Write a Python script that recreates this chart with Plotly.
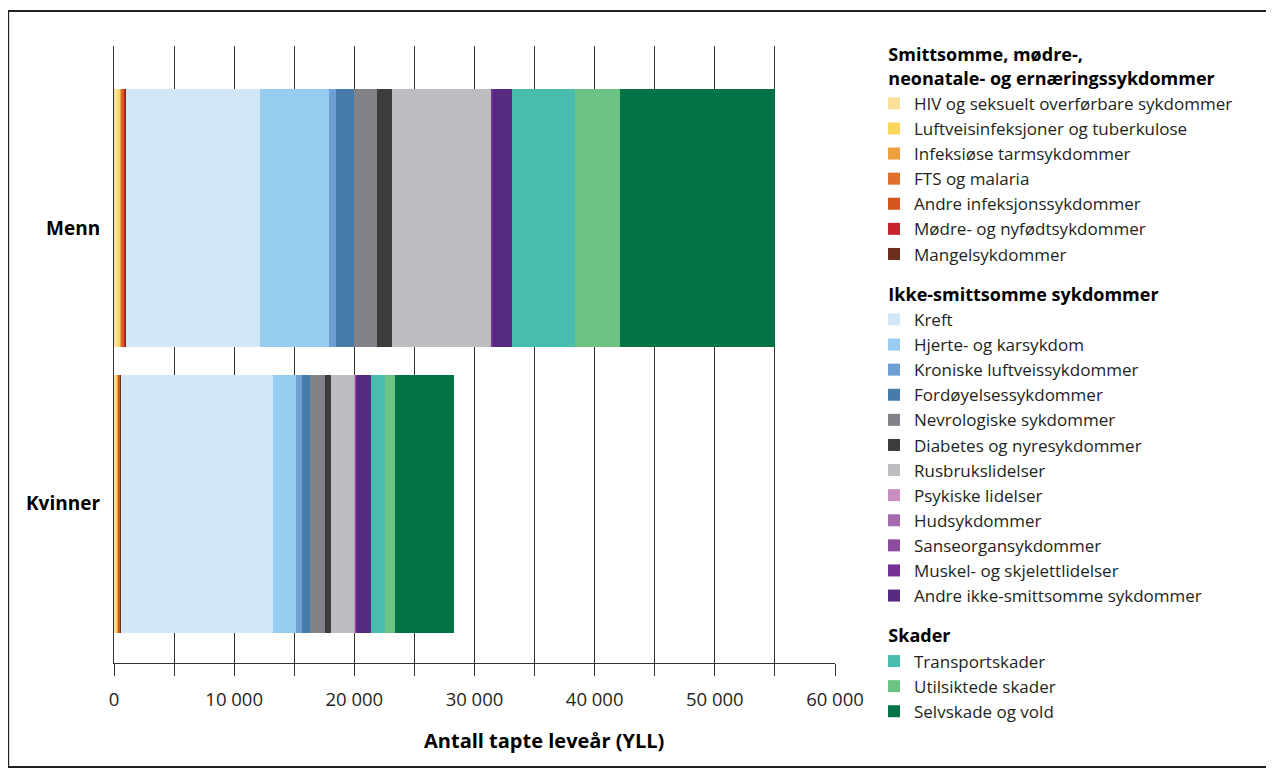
import plotly.graph_objects as go

# ---------------- data ----------------
categories = ["Menn", "Kvinner"]

groups = [
    "Smittsomme, mødre-,<br>\u00a0\u00a0neonatale- og ernæringssykdommer",
    "Ikke-smittsomme sykdommer",
    "Skader",
]

cause_names = [
    "HIV og seksuelt overførbare sykdommer",
    "Luftveisinfeksjoner og tuberkulose",
    "Infeksiøse tarmsykdommer",
    "FTS og malaria",
    "Andre infeksjonssykdommer",
    "Mødre- og nyfødtsykdommer",
    "Mangelsykdommer",
    "Kreft",
    "Hjerte- og karsykdom",
    "Kroniske luftveissykdommer",
    "Fordøyelsessykdommer",
    "Nevrologiske sykdommer",
    "Diabetes og nyresykdommer",
    "Rusbrukslidelser",
    "Psykiske lidelser",
    "Hudsykdommer",
    "Sanseorgansykdommer",
    "Muskel- og skjelettlidelser",
    "Andre ikke-smittsomme sykdommer",
    "Transportskader",
    "Utilsiktede skader",
    "Selvskade og vold",
]

cause_group = [0] * 7 + [1] * 12 + [2] * 3

# values: [Menn, Kvinner]
menn_values = [330, 250, 60, 60, 180, 70, 25,
               11170, 5750, 580, 1500, 1920, 1250, 8250,
               20, 10, 10, 70, 1640,
               5250, 3750, 12860]
kvinner_values = [130, 200, 10, 10, 170, 30, 10,
                  12670, 1920, 500, 670, 1250, 500, 1960,
                  60, 20, 30, 70, 1190,
                  1170, 830, 4920]

colors = [
    "#FADF98", "#FDD55C", "#EE9F3E", "#E0712C", "#D2561E", "#C8232C", "#6B2E1A",
    "#D1E7F7", "#97CDF0", "#6E9FD4", "#477BA9", "#818287", "#3C3C3C", "#BCBDC1",
    "#C88EC2", "#A56BAF", "#8C4C9E", "#763094", "#562A7F",
    "#48BDAD", "#6CC384", "#047446",
]

x_tickvals = [0, 5000, 10000, 15000, 20000, 25000, 30000, 35000, 40000, 45000, 50000, 55000, 60000]
x_ticktext = ["0", "", "10 000", "", "20 000", "", "30 000", "", "40 000", "", "50 000", "", "60 000"]

x_title = "Antall tapte leveår (YLL)"

# ---------------- figure ----------------
FONT = "Open Sans"
TXT = "#231F20"
OFF = 8  # page body margin

fig = go.Figure()
for i, name in enumerate(cause_names):
    g = cause_group[i]
    fig.add_trace(go.Bar(
        y=categories,
        x=[menn_values[i], kvinner_values[i]],
        name=name,
        orientation="h",
        marker=dict(color=colors[i], line=dict(width=0)),
        width=0.9,
        legendgroup=f"g{g}",
        legendgrouptitle=dict(text=f"<b>\u00a0\u00a0{groups[g]}</b>",
                              font=dict(size=18, family=FONT, color="#000")),
    ))

W, H = 1274 - OFF, 776 - 2 * OFF
L, R, T, B = 114.3 - OFF, 835 - OFF, 46 - OFF, 663 - OFF

fig.update_layout(
    width=W, height=H,
    barmode="stack",
    bargap=0.1,
    plot_bgcolor="white",
    paper_bgcolor="white",
    margin=dict(l=L, r=W - R, t=T, b=H - B, autoexpand=False),
    font=dict(family=FONT, size=17, color=TXT),
    xaxis=dict(
        range=[0, 60000],
        tickmode="array",
        tickvals=x_tickvals,
        ticktext=x_ticktext,
        showgrid=True,
        gridcolor="#333333",
        gridwidth=1.3,
        zeroline=False,
        showline=True,
        linecolor="#333333",
        linewidth=1.3,
        ticks="outside",
        ticklen=12,
        tickwidth=1.3,
        tickcolor="#333333",
        ticklabelstandoff=8,
        tickfont=dict(size=18.5, family=FONT, color=TXT),
    ),
    yaxis=dict(
        categoryorder="array",
        categoryarray=["Kvinner", "Menn"],
        range=[-0.556, 1.601],
        showgrid=False,
        zeroline=False,
        showline=True,
        linecolor="#333333",
        linewidth=1.3,
        ticks="",
        showticklabels=False,
    ),
    legend=dict(
        xref="container", yref="container",
        x=(874 - OFF) / W, y=1 - (36 - OFF) / H,
        xanchor="left", yanchor="top",
        traceorder="grouped",
        tracegroupgap=14,
        maxheight=1.0,
        font=dict(size=17, family=FONT, color=TXT),
        bgcolor="rgba(0,0,0,0)",
    ),
    showlegend=True,
)

pw, ph = R - L, B - T

# category labels (Menn sits a little below its bar centre in the reference)
cat_shift = {"Menn": -10, "Kvinner": 1}
for c in categories:
    fig.add_annotation(
        xref="paper", yref="y", x=0, y=c,
        text=f"<b>{c}</b>", showarrow=False,
        xanchor="right", yanchor="middle", xshift=-12, yshift=cat_shift[c],
        font=dict(size=19, family=FONT, color="#000"),
    )

# x axis title (placed as in the reference)
fig.add_annotation(
    xref="paper", yref="paper",
    x=(544 - OFF - L) / pw, y=(B - (740 - OFF)) / ph,
    text=f"<b>{x_title}</b>", showarrow=False,
    font=dict(size=20, family=FONT, color="#000"),
    xanchor="center", yanchor="middle",
)

# outer frame
fig.add_shape(
    type="rect", xref="paper", yref="paper",
    x0=(8.5 - OFF - L) / pw, x1=(1267 - OFF - L) / pw,
    y0=(B - (767 - OFF)) / ph, y1=(B - (11 - OFF)) / ph,
    line=dict(color="#231F20", width=2),
    fillcolor="rgba(0,0,0,0)",
    layer="below",
)

fig.write_html("out.html")
